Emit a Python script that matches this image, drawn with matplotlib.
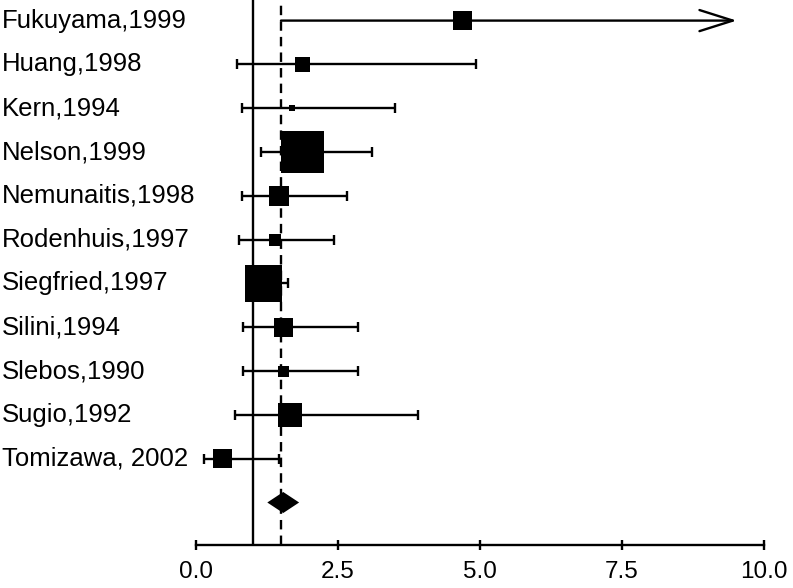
import matplotlib
matplotlib.use('Agg')
import matplotlib.pyplot as plt
import matplotlib.transforms as mtransforms
from matplotlib import rcParams
import numpy as np

rcParams['font.family'] = 'sans-serif'
rcParams['font.sans-serif'] = ['Liberation Sans', 'DejaVu Sans']

# study data
studies = ['Fukuyama,1999', 'Huang,1998', 'Kern,1994', 'Nelson,1999',
           'Nemunaitis,1998', 'Rodenhuis,1997', 'Siegfried,1997',
           'Silini,1994', 'Slebos,1990', 'Sugio,1992', 'Tomizawa, 2002']
estimate = [4.70, 1.88, 1.70, 1.88, 1.47, 1.40, 1.19, 1.54, 1.54, 1.66, 0.47]
ci_low = [1.50, 0.73, 0.81, 1.15, 0.81, 0.77, 0.95, 0.84, 0.84, 0.69, 0.15]
ci_high = [9.52, 4.93, 3.51, 3.11, 2.67, 2.43, 1.62, 2.85, 2.85, 3.92, 1.47]
weight = [6.3, 4.3, 0.7, 31.1, 6.7, 2.6, 23.8, 6.5, 2.1, 9.8, 6.3]
# index of studies whose upper limit runs off scale (drawn with an arrow)
open_ended = [0]

pooled = [1.26, 1.54, 1.82]
null_value = 1.0
pooled_line = 1.50

x_ticks = [0.0, 2.5, 5.0, 7.5, 10.0]


fig = plt.figure(figsize=(7.93, 5.88), dpi=100)
ax = fig.add_axes([195.7 / 793, 1 - 545 / 588, (764 - 195.7) / 793, 545 / 588])

rows = np.arange(len(studies))
lw = 1.7

ax.axvline(null_value, color='black', lw=lw, zorder=1)
ax.axvline(pooled_line, color='black', lw=lw, ls=(0, (4, 2.6)), zorder=1)

for i in rows:
    if i in open_ended:
        ax.annotate('', xy=(ci_high[i], i), xytext=(ci_low[i], i),
                    arrowprops=dict(arrowstyle='->,head_length=24,head_width=7.6',
                                    mutation_scale=1, lw=lw, color='black',
                                    shrinkA=0, shrinkB=0), zorder=2)
    else:
        ax.errorbar(estimate[i], i,
                    xerr=[[estimate[i] - ci_low[i]], [ci_high[i] - estimate[i]]],
                    fmt='none', ecolor='black', elinewidth=lw, capsize=3.8,
                    capthick=lw, zorder=2)

ax.scatter(estimate, rows, s=29.8 * np.array(weight), marker='s',
           color='black', linewidths=0, zorder=3)

# pooled estimate diamond
yd = len(studies)
h = 0.24
ax.fill([pooled[0], pooled[1], pooled[2], pooled[1]],
        [yd, yd - h, yd, yd + h], color='black', lw=0, zorder=3)

ax.set_xlim(0, 10)
ax.set_ylim(11.97, -0.47)
ax.set_xticks(x_ticks)
ax.set_xticklabels(['%.1f' % t for t in x_ticks])
ax.tick_params(axis='x', direction='inout', length=6.7, width=lw,
               labelsize=17.5, pad=8)
ax.set_yticks([])
for s in ['top', 'right', 'left']:
    ax.spines[s].set_visible(False)
ax.spines['bottom'].set_linewidth(lw)

trans = mtransforms.blended_transform_factory(fig.transFigure, ax.transData)
for i, name in enumerate(studies):
    ax.text(0.002, i, name, transform=trans, ha='left', va='center',
            fontsize=18.5, clip_on=False)

fig.savefig('out.png', dpi=100)
